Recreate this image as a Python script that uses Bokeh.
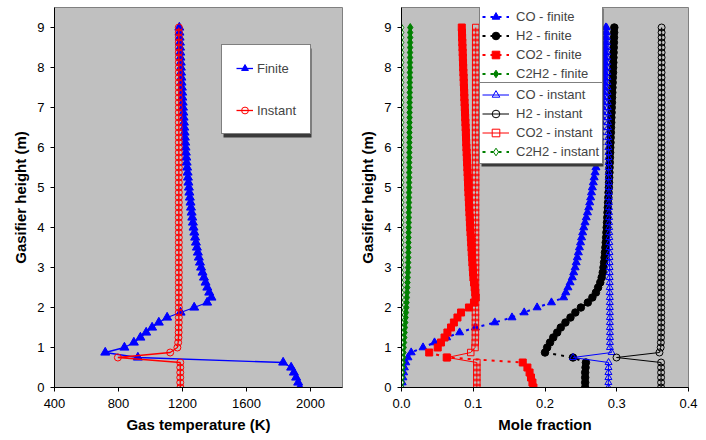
from bokeh.plotting import figure
from bokeh.models import Range1d, FixedTicker, Legend, LegendItem, NumeralTickFormatter, BoxAnnotation
from bokeh.layouts import row
from bokeh.embed import file_html
from bokeh.resources import INLINE

# ---------------- data ----------------
heights = [0.0, 0.125, 0.25, 0.375, 0.5, 0.625, 0.75, 0.875,
           1.0, 1.125, 1.25, 1.375, 1.5, 1.625, 1.75, 1.875,
           2.0, 2.125, 2.25, 2.375, 2.5, 2.625, 2.75, 2.875,
           3.0, 3.125, 3.25, 3.375, 3.5, 3.625, 3.75, 3.875,
           4.0, 4.125, 4.25, 4.375, 4.5, 4.625, 4.75, 4.875,
           5.0, 5.125, 5.25, 5.375, 5.5, 5.625, 5.75, 5.875,
           6.0, 6.125, 6.25, 6.375, 6.5, 6.625, 6.75, 6.875,
           7.0, 7.125, 7.25, 7.375, 7.5, 7.625, 7.75, 7.875,
           8.0, 8.125, 8.25, 8.375, 8.5, 8.625, 8.75, 8.875,
           9.0]

temp_finite = [1933, 1923, 1910, 1896, 1879, 1829, 921, 717,
               837, 896, 937, 973, 1010, 1052, 1104, 1188,
               1273, 1354, 1381, 1367, 1355, 1344, 1334, 1325,
               1316, 1309, 1302, 1296, 1290, 1284, 1279, 1274,
               1269, 1265, 1261, 1257, 1253, 1250, 1246, 1243,
               1240, 1237, 1234, 1232, 1229, 1226, 1224, 1221,
               1219, 1217, 1215, 1213, 1211, 1209, 1207, 1205,
               1203, 1201, 1199, 1198, 1196, 1194, 1193, 1191,
               1190, 1189, 1187, 1186, 1185, 1184, 1182, 1181,
               1180]

temp_instant = [1187, 1186, 1186, 1186, 1186, 1186, 796, 1123,
                1168, 1173, 1175, 1176, 1176, 1177, 1177, 1177,
                1177, 1177, 1177, 1177, 1177, 1177, 1177, 1177,
                1177, 1177, 1177, 1177, 1177, 1177, 1177, 1177,
                1177, 1177, 1177, 1177, 1177, 1177, 1177, 1177,
                1177, 1177, 1177, 1177, 1177, 1177, 1177, 1177,
                1177, 1177, 1177, 1177, 1177, 1177, 1177, 1177,
                1177, 1177, 1177, 1177, 1177, 1177, 1177, 1177,
                1177, 1177, 1177, 1177, 1177, 1177, 1177, 1177,
                1177]

co_finite = [0.000, 0.001, 0.002, 0.003, 0.004, 0.006, 0.009, 0.0135,
             0.030, 0.046, 0.063, 0.081, 0.103, 0.130, 0.154, 0.171,
             0.189, 0.209, 0.226, 0.229, 0.232, 0.235, 0.238, 0.240,
             0.242, 0.2435, 0.245, 0.2465, 0.248, 0.2495, 0.251, 0.2525,
             0.254, 0.2558, 0.2575, 0.2592, 0.261, 0.2623, 0.2636, 0.2648,
             0.266, 0.2673, 0.2685, 0.2698, 0.271, 0.272, 0.273, 0.274,
             0.275, 0.2757, 0.2765, 0.2772, 0.278, 0.2785, 0.279, 0.2795,
             0.280, 0.2805, 0.281, 0.2815, 0.282, 0.2823, 0.2826, 0.2829,
             0.2832, 0.2834, 0.2836, 0.2838, 0.284, 0.2842, 0.2844, 0.2846,
             0.2848]

h2_finite = [0.256, 0.256, 0.256, 0.256, 0.2565, 0.257, 0.239, 0.200,
             0.203, 0.207, 0.2115, 0.217, 0.222, 0.2285, 0.2355, 0.2423,
             0.250, 0.2597, 0.266, 0.271, 0.274, 0.277, 0.279, 0.2805,
             0.2815, 0.2823, 0.283, 0.2836, 0.2842, 0.2847, 0.2852, 0.2856,
             0.286, 0.2864, 0.2868, 0.2871, 0.2875, 0.2879, 0.2883, 0.2886,
             0.289, 0.2893, 0.2895, 0.2898, 0.290, 0.2903, 0.2905, 0.2908,
             0.291, 0.2913, 0.2915, 0.2918, 0.292, 0.2923, 0.2925, 0.2928,
             0.293, 0.2933, 0.2935, 0.2938, 0.294, 0.2943, 0.2945, 0.2948,
             0.295, 0.2952, 0.2954, 0.2956, 0.2958, 0.296, 0.2962, 0.2964,
             0.2966]

co2_finite = [0.1839, 0.1825, 0.1805, 0.1785, 0.1755, 0.1690, 0.063, 0.0386,
              0.0505, 0.055, 0.060, 0.064, 0.069, 0.073, 0.078, 0.083,
              0.094, 0.101, 0.1035, 0.1028, 0.1020, 0.1011, 0.1002, 0.0997,
              0.0993, 0.0988, 0.0984, 0.0979, 0.0975, 0.0971, 0.0967, 0.0962,
              0.0958, 0.0954, 0.0951, 0.0947, 0.0944, 0.0940, 0.0937, 0.0933,
              0.0930, 0.0927, 0.0924, 0.0921, 0.0918, 0.0914, 0.0911, 0.0908,
              0.0905, 0.0902, 0.0899, 0.0897, 0.0894, 0.0891, 0.0888, 0.0885,
              0.0882, 0.0879, 0.0876, 0.0874, 0.0871, 0.0868, 0.0866, 0.0863,
              0.0860, 0.0858, 0.0855, 0.0853, 0.0850, 0.0848, 0.0845, 0.0843,
              0.0840]

c2h2_finite = [0.0, 0.0003, 0.0007, 0.0011, 0.0015, 0.0019, 0.0023, 0.0027,
               0.0031, 0.0035, 0.0039, 0.0043, 0.0047, 0.0052, 0.0057, 0.0062,
               0.0067, 0.0071, 0.0075, 0.0078, 0.0081, 0.0084, 0.0087, 0.0089,
               0.0091, 0.0093, 0.0094, 0.0095, 0.0096, 0.0097, 0.0098, 0.0099,
               0.0100, 0.0101, 0.0102, 0.0102, 0.0103, 0.0104, 0.0104, 0.0105,
               0.0106, 0.0106, 0.0107, 0.0107, 0.0108, 0.0108, 0.0109, 0.0109,
               0.0110, 0.0110, 0.0111, 0.0111, 0.0112, 0.0112, 0.0113, 0.0113,
               0.0114, 0.0114, 0.0115, 0.0115, 0.0116, 0.0116, 0.0117, 0.0117,
               0.0118, 0.0118, 0.0119, 0.0119, 0.0120, 0.0120, 0.0121, 0.0121,
               0.0122]

co_instant = [0.2883, 0.2883, 0.2884, 0.2884, 0.2885, 0.2886, 0.239, 0.2928,
              0.2905, 0.2905, 0.2905, 0.2905, 0.2904, 0.2904, 0.2904, 0.2904,
              0.2903, 0.2903, 0.2903, 0.2902, 0.2902, 0.2902, 0.2901, 0.2901,
              0.2900, 0.2900, 0.2899, 0.2899, 0.2898, 0.2897, 0.2897, 0.2896,
              0.2895, 0.2894, 0.2894, 0.2893, 0.2893, 0.2892, 0.2891, 0.2891,
              0.2890, 0.2889, 0.2888, 0.2887, 0.2887, 0.2886, 0.2885, 0.2884,
              0.2883, 0.2882, 0.2881, 0.2880, 0.2879, 0.2878, 0.2877, 0.2876,
              0.2875, 0.2874, 0.2873, 0.2872, 0.2871, 0.2870, 0.2870, 0.2869,
              0.2868, 0.2867, 0.2866, 0.2865, 0.2864, 0.2863, 0.2862, 0.2861,
              0.2860]

h2_instant = [0.3618, 0.3618, 0.3618, 0.3618, 0.3618, 0.3618, 0.2997, 0.3595,
              0.3612, 0.3615, 0.3617, 0.3618, 0.3619, 0.3620, 0.3620, 0.3620,
              0.3620, 0.3620, 0.3620, 0.3620, 0.3620, 0.3620, 0.3620, 0.3620,
              0.3621, 0.3621, 0.3621, 0.3621, 0.3621, 0.3621, 0.3621, 0.3621,
              0.3621, 0.3621, 0.3621, 0.3621, 0.3621, 0.3621, 0.3621, 0.3621,
              0.3622, 0.3622, 0.3622, 0.3622, 0.3622, 0.3622, 0.3622, 0.3622,
              0.3623, 0.3623, 0.3623, 0.3623, 0.3623, 0.3623, 0.3623, 0.3623,
              0.3624, 0.3624, 0.3624, 0.3624, 0.3624, 0.3624, 0.3624, 0.3624,
              0.3625, 0.3625, 0.3625, 0.3625, 0.3625, 0.3625, 0.3625, 0.3625,
              0.3625]

co2_instant = [0.1050, 0.1050, 0.1050, 0.1050, 0.1050, 0.1050, 0.064, 0.0965,
               0.1025, 0.1028, 0.1030, 0.1030, 0.1030, 0.1030, 0.1031, 0.1031,
               0.1031, 0.1031, 0.1031, 0.1031, 0.1031, 0.1031, 0.1031, 0.1031,
               0.1032, 0.1032, 0.1032, 0.1032, 0.1032, 0.1032, 0.1032, 0.1032,
               0.1032, 0.1032, 0.1032, 0.1032, 0.1032, 0.1032, 0.1032, 0.1032,
               0.1033, 0.1033, 0.1033, 0.1033, 0.1033, 0.1033, 0.1033, 0.1033,
               0.1033, 0.1033, 0.1033, 0.1033, 0.1033, 0.1033, 0.1033, 0.1033,
               0.1034, 0.1034, 0.1034, 0.1034, 0.1034, 0.1034, 0.1034, 0.1034,
               0.1034, 0.1034, 0.1034, 0.1034, 0.1034, 0.1034, 0.1034, 0.1034,
               0.1035]

c2h2_instant = [0.0, 0.0, 0.0, 0.0, 0.0, 0.0, 0.0, 0.0,
                0.0, 0.0, 0.0, 0.0, 0.0, 0.0, 0.0, 0.0,
                0.0, 0.0, 0.0, 0.0, 0.0, 0.0, 0.0, 0.0,
                0.0, 0.0, 0.0, 0.0, 0.0, 0.0, 0.0, 0.0,
                0.0, 0.0, 0.0, 0.0, 0.0, 0.0, 0.0, 0.0,
                0.0, 0.0, 0.0, 0.0, 0.0, 0.0, 0.0, 0.0,
                0.0, 0.0, 0.0, 0.0, 0.0, 0.0, 0.0, 0.0,
                0.0, 0.0, 0.0, 0.0, 0.0, 0.0, 0.0, 0.0,
                0.0, 0.0, 0.0, 0.0, 0.0, 0.0, 0.0, 0.0,
                0.0]

y_ticks = [0, 1, 2, 3, 4, 5, 6, 7, 8, 9]
temp_ticks = [400, 800, 1200, 1600, 2000]
frac_ticks = [0.0, 0.1, 0.2, 0.3, 0.4]

FONT = "Liberation Sans"


def style(p):
    p.background_fill_color = "#C0C0C0"
    p.border_fill_color = "white"
    p.outline_line_color = "#808080"
    p.outline_line_width = 1
    p.xgrid.visible = False
    p.ygrid.visible = False
    for ax in (p.xaxis[0], p.yaxis[0]):
        ax.axis_line_color = "black"
        ax.axis_line_width = 1
        ax.major_tick_line_color = "black"
        ax.major_tick_out = 4
        ax.major_tick_in = 0
        ax.minor_tick_line_color = None
        ax.major_label_text_font = FONT
        ax.major_label_text_font_size = "13px"
        ax.major_label_text_color = "black"
        ax.axis_label_text_font = FONT
        ax.axis_label_text_font_size = "15px"
        ax.axis_label_text_font_style = "bold"
        ax.axis_label_text_color = "black"
        ax.axis_label_standoff = 5
    p.xaxis[0].major_label_standoff = 7
    p.yaxis[0].major_label_standoff = 6
    p.yaxis[0].ticker = FixedTicker(ticks=y_ticks)
    p.yaxis[0].axis_label = "Gasifier height (m)"


def shadow(left, right, bottom, top):
    return BoxAnnotation(left=left, right=right, bottom=bottom, top=top,
                         left_units="screen", right_units="screen",
                         bottom_units="screen", top_units="screen",
                         fill_color="#3A3A3A", fill_alpha=1, line_color=None,
                         level="annotation")


# ---------------- left: gas temperature ----------------
p1 = figure(width=356, height=440, x_range=Range1d(400, 2200), y_range=Range1d(0, 9.5),
            output_backend="svg", toolbar_location=None,
            min_border_left=54, min_border_right=14, min_border_top=7, min_border_bottom=51)
style(p1)
p1.xaxis[0].ticker = FixedTicker(ticks=temp_ticks)
p1.xaxis[0].axis_label = "Gas temperature (K)"

lf = p1.line(temp_finite, heights, line_color="#0000FF", line_width=1.3)
sf = p1.scatter(temp_finite, heights, marker="triangle", size=9,
                fill_color="#0000FF", line_color="#0000FF")
li = p1.line(temp_instant, heights, line_color="#FF0000", line_width=1.3)
si = p1.scatter(temp_instant, heights, marker="circle", size=7,
                fill_color=None, line_color="#FF0000", line_width=1)

p1.add_layout(shadow(169, 257, 250, 339), "center")
leg1 = Legend(items=[LegendItem(label="Finite", renderers=[lf, sf]),
                     LegendItem(label="Instant", renderers=[li, si])],
              location=(167, 253), margin=0, padding=14, spacing=24,
              label_height=18, glyph_height=18, glyph_width=17, label_standoff=4,
              label_width=39, border_line_color="black", border_line_width=1,
              background_fill_color="white", background_fill_alpha=1,
              label_text_font=FONT, label_text_font_size="13px")
p1.add_layout(leg1, "center")

# ---------------- right: mole fraction ----------------
p2 = figure(width=350, height=440, x_range=Range1d(0, 0.4), y_range=Range1d(0, 9.5),
            output_backend="svg", toolbar_location=None,
            min_border_left=42, min_border_right=18, min_border_top=7, min_border_bottom=53)
style(p2)
p2.xaxis[0].ticker = FixedTicker(ticks=frac_ticks)
p2.xaxis[0].formatter = NumeralTickFormatter(format="0.0")
p2.xaxis[0].axis_label = "Mole fraction"

DOT = "3 5"
series = [
    # label, values, color, marker, filled, dashed, size
    ("CO - finite", co_finite, "#0000FF", "triangle", True, True, 8),
    ("H2 - finite", h2_finite, "#000000", "circle", True, True, 7.5),
    ("CO2 - finite", co2_finite, "#FF0000", "square", True, True, 7),
    ("C2H2 - finite", c2h2_finite, "#008000", "diamond", True, True, 8),
    ("CO - instant", co_instant, "#0000FF", "triangle", False, False, 7),
    ("H2 - instant", h2_instant, "#000000", "circle", False, False, 7),
    ("CO2 - instant", co2_instant, "#FF0000", "square", False, False, 6.5),
    ("C2H2 - instant", c2h2_instant, "#008000", "diamond", False, True, 7),
]

items = []
for label, vals, color, marker, filled, dashed, size in series:
    if dashed:
        lr = p2.line(vals, heights, line_color=color, line_width=2, line_dash=DOT)
    else:
        lr = p2.line(vals, heights, line_color=color, line_width=1)
    if filled:
        sr = p2.scatter(vals, heights, marker=marker, size=size,
                        fill_color=color, line_color=color)
    else:
        fc = "white" if marker == "diamond" else None
        sr = p2.scatter(vals, heights, marker=marker, size=size,
                        fill_color=fc, line_color=color, line_width=1)
    items.append(LegendItem(label=label, renderers=[lr, sr]))

p2.add_layout(shadow(80, 202, 221, 379), "center")
common = dict(margin=0, padding=2, spacing=0, label_height=19, glyph_height=19,
              glyph_width=27, label_standoff=7, label_width=84,
              border_line_color="black", border_line_width=1,
              background_fill_color="white", background_fill_alpha=1,
              label_text_font=FONT, label_text_font_size="13px")
leg_top = Legend(items=items[:4], location=(78, 301), **common)
leg_bot = Legend(items=items[4:], location=(78, 223), **common)
p2.add_layout(leg_top, "center")
p2.add_layout(leg_bot, "center")

layout = row(p1, p2)
open("out.html", "w").write(file_html(layout, INLINE))
